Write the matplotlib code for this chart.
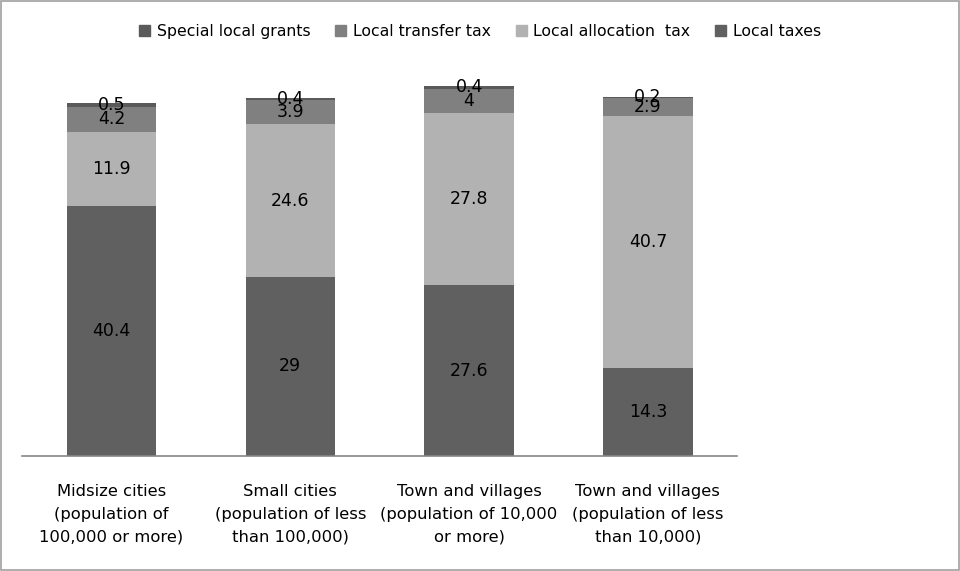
import matplotlib
matplotlib.use("Agg")
import matplotlib.pyplot as plt
from matplotlib.patches import Patch, Rectangle
import numpy as np

# ------------------------------------------------------------------
#  DATA
# ------------------------------------------------------------------
categories = ["Midsize cities\n(population of\n100,000 or more)",
              "Small cities\n(population of less\nthan 100,000)",
              "Town and villages\n(population of 10,000\nor more)",
              "Town and villages\n(population of less\nthan 10,000)"]
local_taxes      = [40.4, 29, 27.6, 14.3]
local_allocation = [11.9, 24.6, 27.8, 40.7]
local_transfer   = [4.2, 3.9, 4, 2.9]
special_grants   = [0.5, 0.4, 0.4, 0.2]
value_text = {
    "Local taxes": ["40.4", "29", "27.6", "14.3"],
    "Local allocation  tax": ["11.9", "24.6", "27.8", "40.7"],
    "Local transfer tax": ["4.2", "3.9", "4", "2.9"],
    "Special local grants": ["0.5", "0.4", "0.4", "0.2"],
}

# ------------------------------------------------------------------
#  PLOT
# ------------------------------------------------------------------
plt.rcParams['font.family'] = ['Liberation Sans Narrow', 'DejaVu Sans Condensed', 'DejaVu Sans']

fig = plt.figure(figsize=(9.6, 5.71), dpi=100)
ax = fig.add_axes([0.023, 0.2014, 0.745, 0.65])

series = [("Local taxes", local_taxes, "#606060"),
          ("Local allocation  tax", local_allocation, "#b2b2b2"),
          ("Local transfer tax", local_transfer, "#808080"),
          ("Special local grants", special_grants, "#5a5a5a")]

x = np.arange(len(categories))
bottom = np.zeros(len(categories))
for name, vals, col in series:
    vals = np.array(vals, dtype=float)
    ax.bar(x, vals, 0.5, bottom=bottom, color=col, edgecolor='none')
    for i in range(len(x)):
        ax.text(x[i], bottom[i] + vals[i] / 2, value_text[name][i],
                ha='center', va='center', fontsize=12.5, color='black')
    bottom += vals

ax.set_xlim(-0.5, len(categories) - 0.5)
ax.set_ylim(0, 60)
ax.set_yticks([])
ax.set_xticks(x)
ax.set_xticklabels(categories, fontsize=11.8, linespacing=1.65)
ax.tick_params(axis='x', length=0, pad=20)
for s in ['top', 'right', 'left']:
    ax.spines[s].set_visible(False)
ax.spines['bottom'].set_color('#868686')
ax.spines['bottom'].set_linewidth(1.2)

handles = [Patch(color=c, label=n) for n, v, c in series[::-1]]
fig.legend(handles=handles, loc='center', bbox_to_anchor=(0.5, 0.945), ncol=4,
           frameon=False, fontsize=11.3, handlelength=0.7, handleheight=0.7,
           handletextpad=0.4, columnspacing=1.6)

# outer chart border
fig.patches.append(Rectangle((0.001, 0.002), 0.998, 0.996, transform=fig.transFigure,
                             fill=False, edgecolor='#a0a0a0', linewidth=1.2))

fig.savefig("out.png", dpi=100)
